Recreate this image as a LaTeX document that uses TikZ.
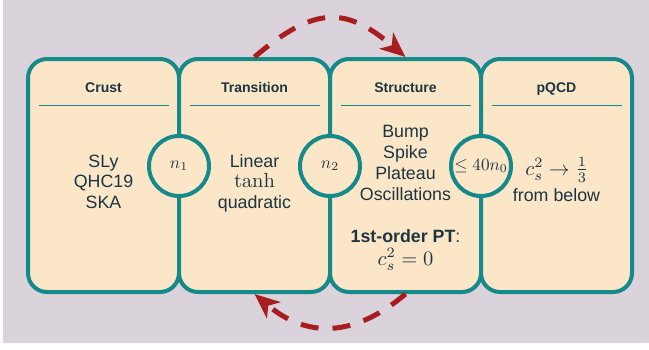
\documentclass[tikz,border=0pt]{standalone}
\usepackage[no-math]{fontspec}
\setmainfont{Liberation Sans}
\usetikzlibrary{arrows.meta}

\definecolor{bgLav}{HTML}{DBD3DC}
\definecolor{boxFill}{HTML}{FBE6C8}
\definecolor{boxLine}{HTML}{16898A}
\definecolor{inkText}{HTML}{1D3441}
\definecolor{flowRed}{HTML}{A81E1E}

% math set at its 10pt design size, then enlarged
\newcommand{\wideMath}[1]{\scalebox{2.05}{$#1$}}
\newcommand{\jointMath}[1]{\scalebox{1.72}{$#1$}}

\tikzset{
  panel/.style={draw=boxLine, fill=boxFill, line width=4pt, rounded corners=19pt,
                minimum width=151pt, minimum height=233pt, inner sep=0pt},
  head/.style={font=\fontsize{14}{16}\selectfont\bfseries, text=inkText, anchor=base, inner sep=0pt},
  body/.style={font=\fontsize{17.8}{21}\selectfont, text=inkText, anchor=base, inner sep=0pt},
  mathline/.style={font=\fontsize{10}{12}\selectfont, text=inkText, anchor=base, inner sep=0pt},
  rule/.style={draw=boxLine, line width=1pt},
  joint/.style={circle, draw=boxLine, fill=boxFill, line width=4pt, minimum size=60pt,
                inner sep=0pt, text=inkText, font=\fontsize{10}{12}\selectfont},
  cycle/.style={draw=flowRed, line width=5pt, dash pattern=on 18pt off 14pt,
                -{Stealth[length=25pt, width=21pt, inset=7pt]}},
}

\begin{document}
\begin{tikzpicture}[x=1pt, y=-1pt]
  % page and backdrop
  \fill[white] (0,0) rectangle (649,349);
  \fill[bgLav] (3,0) rectangle (649,343);
  \useasboundingbox (0,0) rectangle (649,349);

  % the four panels
  \node[panel] (crust)  at (103.5,175.5) {};
  \node[panel] (trans)  at (254.5,175.5) {};
  \node[panel] (struct) at (405.5,175.5) {};
  \node[panel] (pqcd)   at (556.5,175.5) {};

  % headings and rules
  \node[head] (hcrust)  at (103.5,92) {Crust};
  \node[head] (htrans)  at (254.5,92) {Transition};
  \node[head] (hstruct) at (405.5,92) {Structure};
  \node[head] (hpqcd)   at (556.5,92) {pQCD};
  \foreach \c in {103.5,254.5,405.5,556.5}
    \draw[rule] (\c-65,105) -- (\c+65,105);

  % crust models
  \node[body] (c1) at (103.5,167) {SLy};
  \node[body] (c2) at (103.5,187.5) {QHC19};
  \node[body] (c3) at (103.5,208) {SKA};

  % transition shapes
  \node[body]     (t1) at (254.5,167) {Linear};
  \node[mathline] (t2) at (254.5,187.5) {\wideMath{\tanh}};
  \node[body]     (t3) at (254.5,208) {quadratic};

  % structure features
  \node[body] (s1) at (405.5,137) {Bump};
  \node[body] (s2) at (405.5,158) {Spike};
  \node[body] (s3) at (405.5,179) {Plateau};
  \node[body] (s4) at (405.5,200) {Oscillations};
  \node[body] (s5) at (405.5,242) {\textbf{1st-order PT}:};
  \node[mathline] (s6) at (405.5,265) {\wideMath{c_s^2 = 0}};

  % perturbative QCD limit
  \node[mathline] (p1) at (557,175) {\wideMath{c_s^2 \to \frac{1}{3}}};
  \node[body]     (p2) at (556.5,201) {from below};

  % matching densities
  \node[joint] (n1) at (179,166) {\jointMath{n_1}};
  \node[joint] (n2) at (330,166) {\jointMath{n_2}};
  \node[joint] (n3) at (481,166) {\jointMath{\leq 40n_0}};

  % iteration loop between transition and structure
  \draw[cycle] (trans.north) .. controls +(60,-51) and +(-60,-51) .. (struct.north);
  \draw[cycle] (struct.south) .. controls +(-52,44) and +(52,44) .. (trans.south);
\end{tikzpicture}
\end{document}
